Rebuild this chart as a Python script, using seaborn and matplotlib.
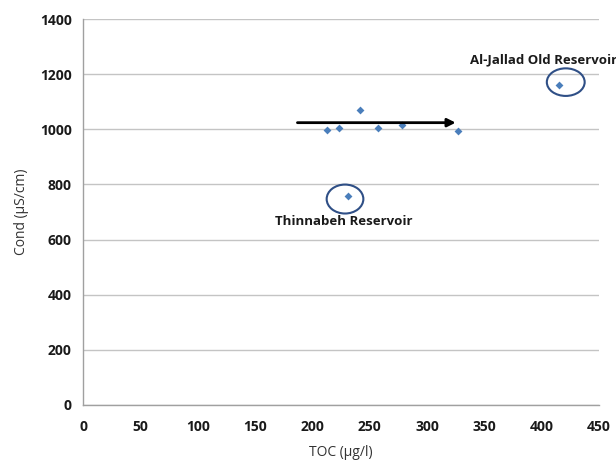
import matplotlib
matplotlib.use("Agg")
import matplotlib.pyplot as plt
from matplotlib.patches import Ellipse
import seaborn as sns
import pandas as pd

toc = [213, 223, 242, 257, 278, 327, 231, 415]
cond = [997, 1005, 1070, 1005, 1016, 994, 758, 1161]
x_ticks = [0, 50, 100, 150, 200, 250, 300, 350, 400, 450]
y_ticks = [0, 200, 400, 600, 800, 1000, 1200, 1400]
arrow_x = [187, 325]
arrow_y = 1024
labels = ["Thinnabeh Reservoir", "Al-Jallad Old Reservoir"]

df = pd.DataFrame({"TOC": toc, "Cond": cond})

sns.set_theme(style="white")
plt.rcParams['font.family'] = ['Open Sans', 'DejaVu Sans']

fig = plt.figure(figsize=(6.16, 4.62), dpi=100)
ax = fig.add_axes([83/616, 1-405/462, 516/616, 386/462])

sns.scatterplot(data=df, x="TOC", y="Cond", marker="D", s=16, color="#4A7EBB",
                edgecolor="#4A7EBB", linewidth=0, ax=ax, zorder=3)

ax.set_xlim(0, 450)
ax.set_ylim(0, 1400)
ax.set_xticks(x_ticks)
ax.set_yticks(y_ticks)
ax.set_xticklabels([str(v) for v in x_ticks], fontweight="bold", fontsize=10, color="#1a1a1a")
ax.set_yticklabels([str(v) for v in y_ticks], fontweight="bold", fontsize=10, color="#1a1a1a")
ax.yaxis.grid(True, color="#C4C4C4", linewidth=1)
ax.xaxis.grid(False)
ax.tick_params(axis="both", which="both", length=5, width=1, color="#A0A0A0", direction="out", pad=6)
ax.tick_params(axis="y", pad=3)
for side in ["top", "right"]:
    ax.spines[side].set_visible(False)
for side in ["left", "bottom"]:
    ax.spines[side].set_color("#A0A0A0")
    ax.spines[side].set_linewidth(1)
ax.set_xlabel("TOC (µg/l)", fontsize=10, color="#333333", labelpad=8)
ax.set_ylabel("Cond (µS/cm)", fontsize=10, color="#333333", labelpad=8)

# arrow
ax.annotate("", xy=(arrow_x[1], arrow_y), xytext=(arrow_x[0], arrow_y),
            arrowprops=dict(arrowstyle="-|>", color="black", lw=2, mutation_scale=12,
                            shrinkA=0, shrinkB=0), zorder=4)

# ellipses around outliers
th_x, th_y = toc[6], cond[6]
aj_x, aj_y = toc[7], cond[7]
ax.add_patch(Ellipse((th_x - 2.5, th_y - 11), width=32, height=105, fill=False,
                     edgecolor="#2F4F86", linewidth=1.5, zorder=4))
ax.add_patch(Ellipse((aj_x + 6, aj_y + 10), width=33, height=100, fill=False,
                     edgecolor="#2F4F86", linewidth=1.5, zorder=4))

ax.text(th_x - 4, th_y - 93, labels[0], ha="center", va="center",
        fontsize=9.5, fontweight="bold", color="#1a1a1a")
ax.text(aj_x - 13, aj_y + 90, labels[1], ha="center", va="center",
        fontsize=9.5, fontweight="bold", color="#1a1a1a", clip_on=False)

fig.savefig("out.png", dpi=100, facecolor="white")
